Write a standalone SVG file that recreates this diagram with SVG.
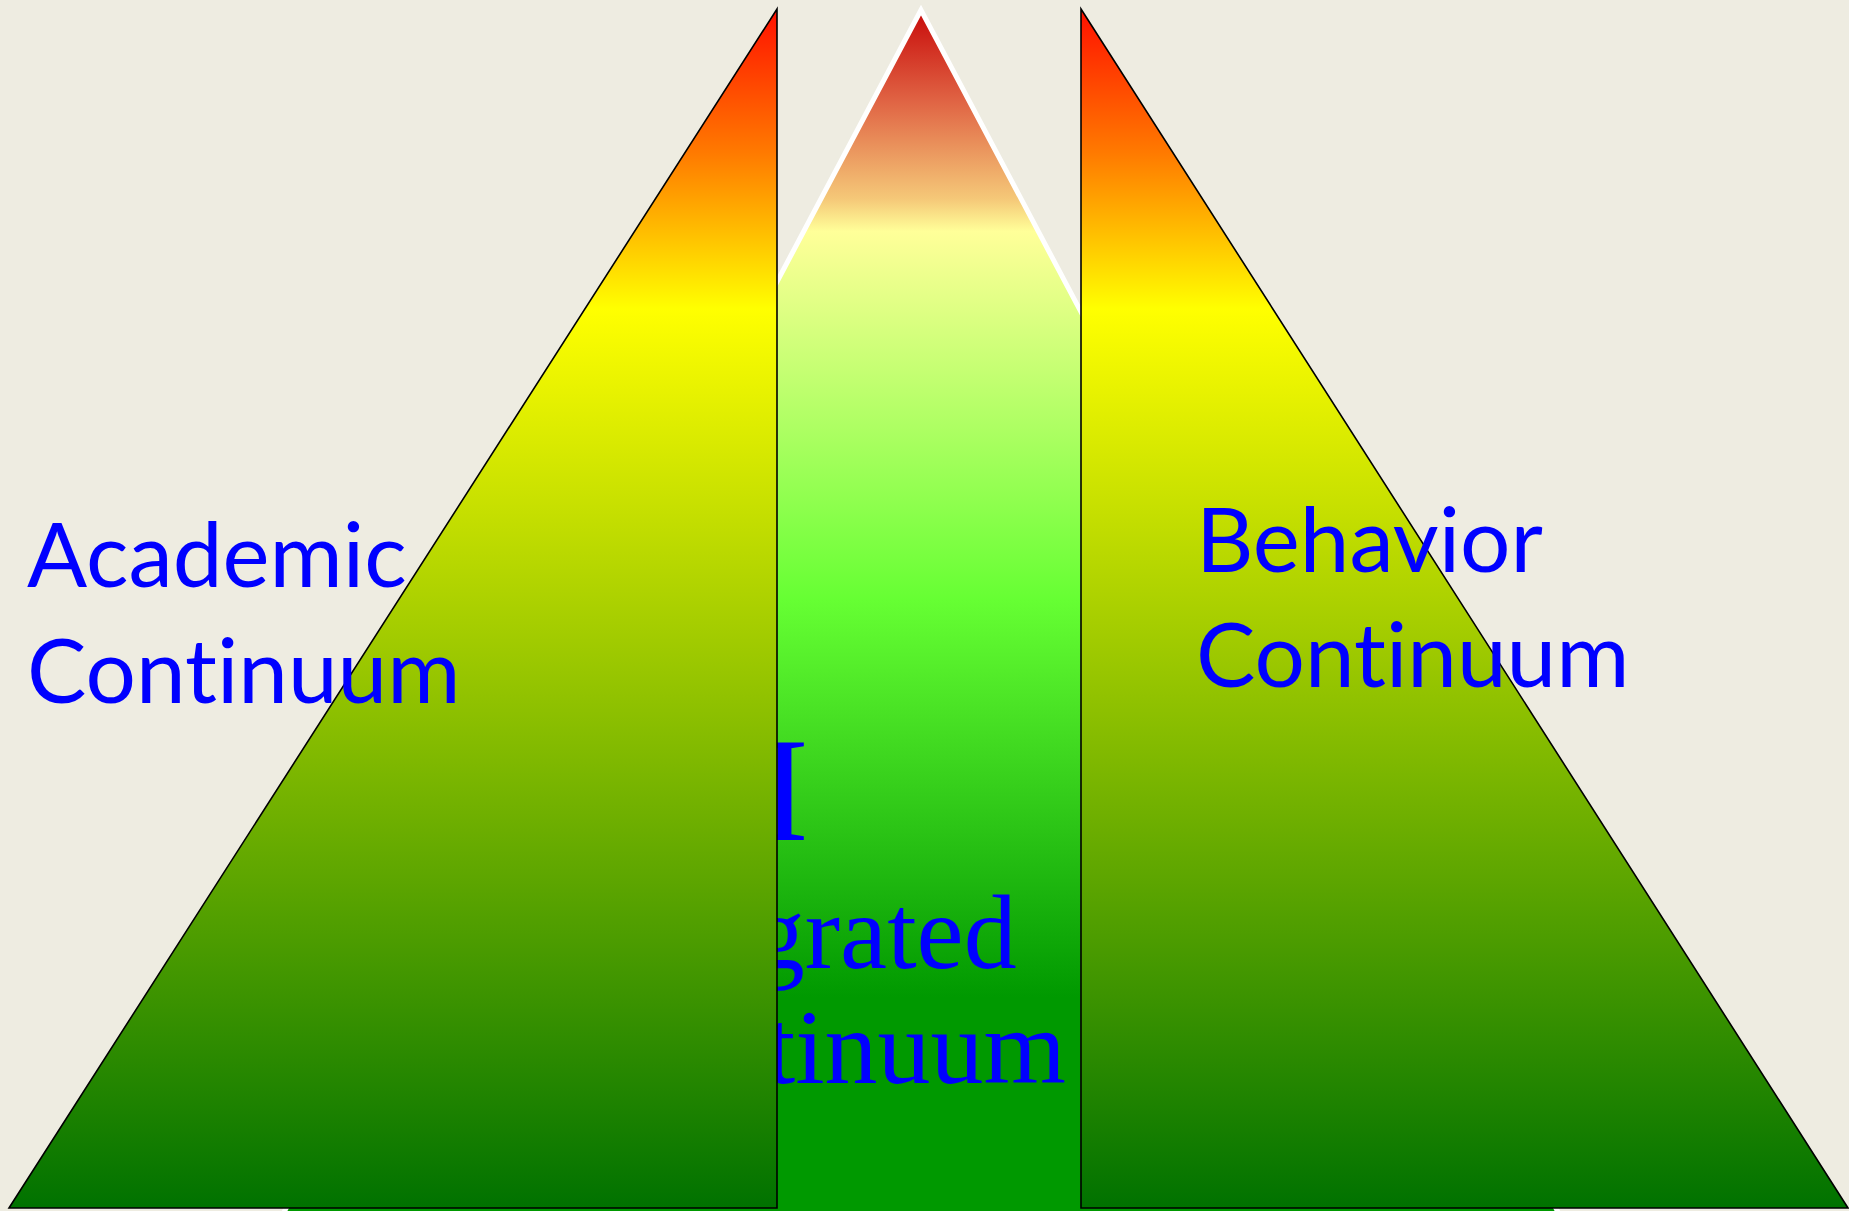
<svg xmlns="http://www.w3.org/2000/svg" width="1849" height="1211" viewBox="0 0 1849 1211">
<style>
.side{stroke:#000;stroke-width:1.6;stroke-linejoin:miter}
.lbl{font-family:Lato,"Liberation Sans",sans-serif;font-size:89px;fill:#0000ff;font-variant-ligatures:none;font-feature-settings:"liga" 0}
.mid{font-family:"Liberation Serif","DejaVu Serif",serif;fill:#0000ff}
</style>
<defs>
<linearGradient id="gSide" x1="0" y1="9" x2="0" y2="1208" gradientUnits="userSpaceOnUse">
<stop offset="0" stop-color="#ff1000"/>
<stop offset="0.12" stop-color="#ff7a00"/>
<stop offset="0.25" stop-color="#ffff00"/>
<stop offset="1" stop-color="#007200"/>
</linearGradient>
<linearGradient id="gMid" x1="0" y1="10" x2="0" y2="1214" gradientUnits="userSpaceOnUse">
<stop offset="0" stop-color="#c80a0a"/>
<stop offset="0.076" stop-color="#e06444"/>
<stop offset="0.157" stop-color="#f5c878"/>
<stop offset="0.184" stop-color="#ffff99"/>
<stop offset="0.49" stop-color="#66ff33"/>
<stop offset="0.82" stop-color="#009900"/>
<stop offset="1" stop-color="#009900"/>
</linearGradient>
</defs>
<rect width="1849" height="1211" fill="#eeece1"/>
<g id="integrated">
<polygon points="921,10 283,1214 1559,1214" fill="url(#gMid)" stroke="#ffffff" stroke-width="5"/>
<text class="mid" x="809" y="840" font-size="148" text-anchor="end">RtI</text>
<text class="mid" x="587" y="968" font-size="106">Integrated</text>
<text class="mid" x="589" y="1083" font-size="106">Continuum</text>
</g>
<g id="academic">
<polygon class="side" points="9,1208 777,9 777,1208" fill="url(#gSide)"/>
</g>
<g id="behavior">
<polygon class="side" points="1081,9 1848,1208 1081,1208" fill="url(#gSide)"/>
</g>
<g id="academic-label">
<text class="lbl" x="27" y="587">Academic</text>
<text class="lbl" x="27" y="703">Continuum</text>
</g>
<g id="behavior-label">
<text class="lbl" x="1196" y="572">Behavior</text>
<text class="lbl" x="1196" y="687">Continuum</text>
</g>
<g id="connectors"></g>
</svg>
